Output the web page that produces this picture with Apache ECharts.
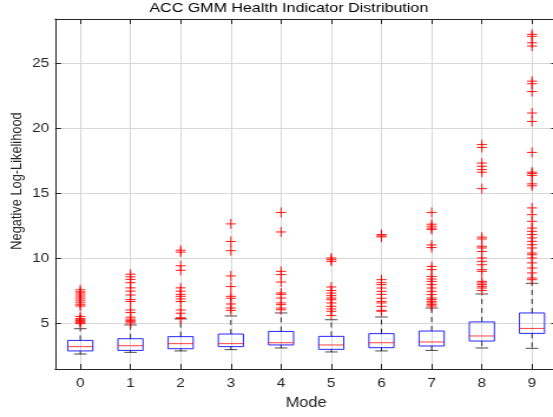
<!DOCTYPE html>
<html><head><meta charset="utf-8">
<script src="https://cdn.jsdelivr.net/npm/echarts@6/dist/echarts.min.js"></script>
<style>
html,body{margin:0;padding:0;overflow:hidden;background:#fff;}
#chart{width:469px;height:417px;transform:scaleX(1.1791);transform-origin:0 0;}
</style>
</head><body><div id="chart"></div>
<script>
const categories = ['0','1','2','3','4','5','6','7','8','9'];
const yTickValues = [5, 10, 15, 20, 25];
const whiskerLow  = [2.61, 2.74, 2.85, 2.95, 3.08, 2.77, 2.85, 2.89, 3.08, 3.05];
const q1          = [2.85, 2.89, 3.02, 3.18, 3.31, 2.97, 3.10, 3.23, 3.61, 4.20];
const median      = [3.18, 3.25, 3.41, 3.41, 3.48, 3.31, 3.48, 3.54, 4.00, 4.58];
const q3          = [3.66, 3.79, 3.95, 4.15, 4.35, 3.97, 4.18, 4.38, 5.08, 5.77];
const whiskerHigh = [4.56, 4.85, 5.31, 5.54, 5.77, 5.25, 5.46, 6.15, 7.23, 8.05];
const outliers0 = [7.55, 7.4, 7.3, 7.15, 7.0, 6.85, 6.7, 6.55, 6.4, 6.3, 5.5, 5.35, 5.25, 5.2, 5.1, 5.05, 4.95];
const outliers1 = [8.75, 8.55, 8.35, 8.1, 7.7, 7.45, 7.15, 6.8, 6.65, 6.0, 5.8, 5.45, 5.3, 5.2, 5.1, 5.0];
const outliers2 = [10.6, 10.45, 9.4, 9.05, 7.7, 7.45, 7.2, 7.05, 6.85, 6.65, 6.0, 5.75, 5.4, 5.35];
const outliers3 = [12.62, 11.27, 10.56, 8.62, 7.8, 7.05, 6.9, 6.46, 6.15, 5.97];
const outliers4 = [13.5, 12.0, 8.97, 8.72, 8.15, 7.31, 7.2, 6.92, 6.54, 6.41, 6.15, 6.02];
const outliers5 = [10.0, 9.87, 9.74, 7.77, 7.5, 7.3, 7.1, 6.92, 6.79, 6.54, 6.28, 6.08, 5.9, 5.58];
const outliers6 = [11.8, 11.7, 11.62, 8.33, 8.1, 7.95, 7.69, 7.43, 7.2, 6.9, 6.66, 6.54, 6.28, 5.97, 5.9];
const outliers7 = [13.5, 12.6, 12.45, 12.3, 12.2, 11.0, 10.8, 9.35, 9.1, 8.58, 8.38, 8.2, 7.95, 7.69, 7.43, 7.18, 6.92, 6.8, 6.66, 6.54, 6.41, 6.3];
const outliers8 = [18.72, 18.5, 17.3, 17.05, 16.8, 16.6, 15.33, 11.6, 11.46, 10.9, 10.77, 10.5, 10.0, 9.74, 9.48, 9.1, 8.97, 8.2, 8.08, 7.95, 7.82, 7.69, 7.5];
const outliers9 = [27.2, 27.05, 26.55, 26.3, 23.6, 23.4, 22.8, 21.15, 20.5, 18.12, 16.6, 16.5, 16.35, 15.7, 15.55, 13.85, 13.33, 12.82, 12.3, 12.05, 11.8, 11.54, 11.28, 11.02, 10.77, 10.38, 10.25, 10.0, 9.62, 9.23, 8.85, 8.46, 8.33];
const outlierLists = [outliers0, outliers1, outliers2, outliers3, outliers4, outliers5, outliers6, outliers7, outliers8, outliers9];

const FONT = 'Liberation Sans, Arial, sans-serif';
const AX = '#262626';
const GRIDC = '#d8d8d8';

const boxData = categories.map((c, i) => [i, whiskerLow[i], q1[i], median[i], q3[i], whiskerHigh[i]]);
const outData = [];
outlierLists.forEach((arr, i) => arr.forEach(v => outData.push([i, v])));

function renderBox(params, api) {
  const x = api.value(0);
  const unit = api.size([1, 0])[0];
  const hw = unit * 0.25, cw = unit * 0.125;
  const pWl = api.coord([x, api.value(1)]);
  const pQ1 = api.coord([x, api.value(2)]);
  const pMd = api.coord([x, api.value(3)]);
  const pQ3 = api.coord([x, api.value(4)]);
  const pWh = api.coord([x, api.value(5)]);
  const cx = pMd[0];
  const dash = {stroke: '#000', lineWidth: 1, lineDash: [5, 4], opacity: 0.8};
  const cap = {stroke: '#000', lineWidth: 1, opacity: 0.7};
  return {
    type: 'group',
    children: [
      {type: 'line', shape: {x1: cx, y1: pQ3[1], x2: cx, y2: pWh[1]}, style: dash},
      {type: 'line', shape: {x1: cx, y1: pQ1[1], x2: cx, y2: pWl[1]}, style: dash},
      {type: 'line', shape: {x1: cx - cw, y1: pWh[1], x2: cx + cw, y2: pWh[1]}, style: cap},
      {type: 'line', shape: {x1: cx - cw, y1: pWl[1], x2: cx + cw, y2: pWl[1]}, style: cap},
      {type: 'rect', shape: {x: cx - hw, y: pQ3[1], width: hw * 2, height: pQ1[1] - pQ3[1]},
        style: {fill: 'none', stroke: '#0000ff', lineWidth: 1, opacity: 0.85}},
      {type: 'line', shape: {x1: cx - hw, y1: pMd[1], x2: cx + hw, y2: pMd[1]},
        style: {stroke: '#ff0000', lineWidth: 1, opacity: 0.75}}
    ]
  };
}

function renderOutlier(params, api) {
  const p = api.coord([api.value(0), api.value(1)]);
  const s = {stroke: '#ff0000', lineWidth: 1, opacity: 0.9};
  return {
    type: 'group',
    children: [
      {type: 'line', shape: {x1: p[0] - 4.3, y1: p[1], x2: p[0] + 4.3, y2: p[1]}, style: s},
      {type: 'line', shape: {x1: p[0], y1: p[1] - 5, x2: p[0], y2: p[1] + 5}, style: s}
    ]
  };
}

const isYTick = v => yTickValues.some(t => Math.abs(t - v) < 1e-6);
const xLabel = v => (Number.isInteger(v) && v >= 0 && v < categories.length) ? categories[v] : '';

const baseX = {
  type: 'value', min: -0.5, max: 9.5, minInterval: 1, maxInterval: 1,
  axisLine: {show: true, onZero: false, lineStyle: {color: AX, width: 1}},
  axisTick: {show: true, inside: true, length: 5, lineStyle: {color: AX}},
};
const baseY = {
  type: 'value', min: 1.46, max: 28.38, minInterval: 5, maxInterval: 5,
  axisLine: {show: true, onZero: false, lineStyle: {color: AX, width: 1}},
  axisTick: {show: true, inside: true, length: 5, lineStyle: {color: AX}},
};

const option = {
  backgroundColor: '#fff',
  animation: false,
  title: {
    text: 'ACC GMM Health Indicator Distribution',
    left: 245, top: 1.5, padding: 0, textAlign: 'center',
    textStyle: {fontFamily: FONT, fontSize: 13.6, fontWeight: 'normal', color: '#000'}
  },
  grid: {left: 46.8, top: 19, width: 425.7, bottom: 48, containLabel: false, outerBoundsMode: 'none'},
  xAxis: [
    Object.assign({}, baseX, {
      position: 'bottom',
      axisLabel: {formatter: xLabel, margin: 8, color: AX, fontSize: 13, fontFamily: FONT},
      splitLine: {show: true, lineStyle: {color: GRIDC, width: 1, type: 'solid'}},
      name: 'Mode', nameLocation: 'middle', nameGap: 27,
      nameTextStyle: {fontSize: 14, color: AX, fontFamily: FONT}
    }),
    Object.assign({}, baseX, {position: 'top', axisLabel: {show: false}, splitLine: {show: false}})
  ],
  yAxis: [
    Object.assign({}, baseY, {
      position: 'left',
      axisLabel: {formatter: v => isYTick(v) ? String(v) : '', margin: 5, color: AX, fontSize: 13, fontFamily: FONT},
      splitLine: {show: true, lineStyle: {color: GRIDC, width: 1, type: 'solid'}},
      name: 'Negative Log-Likelihood', nameLocation: 'middle', nameGap: 26, nameMoveOverlap: false,
      nameTextStyle: {fontSize: 12.8, color: AX, fontFamily: FONT, padding: [0, 0, 0, 26]}
    }),
    Object.assign({}, baseY, {position: 'right', axisLabel: {show: false}, splitLine: {show: false}})
  ],
  series: [
    {type: 'custom', name: 'box', xAxisIndex: 0, yAxisIndex: 0, renderItem: renderBox,
      encode: {x: 0, y: [1, 2, 3, 4, 5]}, data: boxData, clip: false},
    {type: 'custom', name: 'outliers', xAxisIndex: 0, yAxisIndex: 0, renderItem: renderOutlier,
      encode: {x: 0, y: 1}, data: outData, clip: false}
  ]
};
const chart = echarts.init(document.getElementById('chart'));
chart.setOption(option);
</script>
</body></html>
